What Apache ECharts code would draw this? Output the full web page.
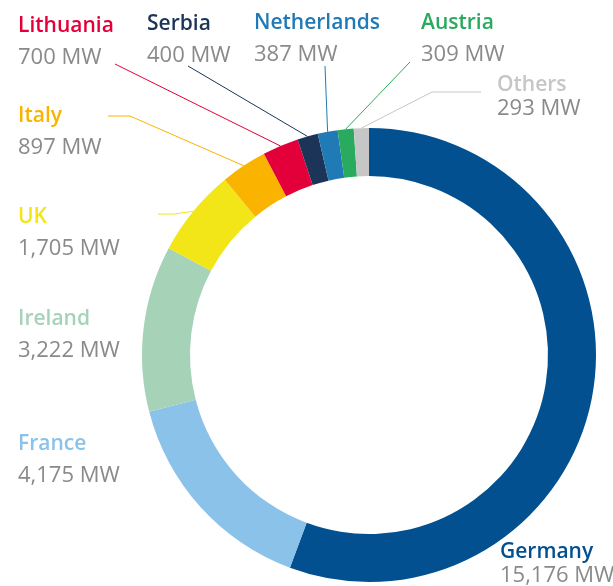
<!DOCTYPE html>
<html>
<head>
<meta charset="utf-8">
<script src="https://cdn.jsdelivr.net/npm/echarts@6/dist/echarts.min.js"></script>
<style>
  html, body { margin: 0; padding: 0; background: #fff; }
  #chart { width: 613px; height: 586px; }
</style>
</head>
<body>
<div id="chart"></div>
<script>
// capacity per country (MW)
const names = ['Germany', 'France', 'Ireland', 'UK', 'Italy', 'Lithuania', 'Serbia', 'Netherlands', 'Austria', 'Others'];
const values = [15176, 4175, 3222, 1705, 897, 700, 400, 387, 309, 293];
const colors = ['#02508f', '#8bc2ea', '#a6d3b8', '#f2e518', '#fab400', '#e3003a', '#1b3457', '#1f7ab6', '#2aaa5e', '#c6c6c6'];

// label boxes (top-left) and leader line ends, by name
const labelAt = {
  Germany: [500, 541], France: [18, 429], Ireland: [18, 304], UK: [18, 202], Italy: [18, 101],
  Lithuania: [18, 11], Serbia: [147, 9], Netherlands: [254, 8], Austria: [421, 8], Others: [497, 74]
};
const lineEnd = {
  Lithuania: [115, 64], Serbia: [188, 66], Netherlands: [325, 66], Austria: [410, 62],
  Others: [481, 92], Italy: [108, 116], UK: [158, 214]
};
const lineElbow = { Others: [432, 92], Italy: [130, 116], UK: [175, 214] };
const tightLabels = ['Germany', 'Others'];

const fmt = v => v.toLocaleString('en-US') + ' MW';

const data = names.map((n, i) => {
  const lh = tightLabels.includes(n) ? 23 : 31;
  return {
    name: n,
    value: values[i],
    itemStyle: { color: colors[i] },
    labelLine: { show: !!lineEnd[n], lineStyle: { color: colors[i], width: 1 } },
    label: {
      rich: {
        n: { color: colors[i], fontSize: 21, fontWeight: 600, lineHeight: lh },
        v: { color: '#8a8a8a', fontSize: 22, lineHeight: lh }
      }
    }
  };
});

const chart = echarts.init(document.getElementById('chart'));
chart.setOption({
  animation: false,
  series: [{
    type: 'pie',
    center: [369, 355],
    radius: [179, 227],
    startAngle: 90,
    clockwise: true,
    avoidLabelOverlap: false,
    emphasis: { disabled: true },
    label: {
      show: true,
      position: 'outside',
      fontFamily: 'Open Sans',
      formatter: p => '{n|' + p.name + '}\n{v|' + fmt(p.value) + '}'
    },
    labelLine: { show: true, length: 10, length2: 10 },
    labelLayout: function (p) {
      const name = names[p.dataIndex];
      const out = { x: labelAt[name][0], y: labelAt[name][1], align: 'left', verticalAlign: 'top' };
      if (lineEnd[name] && p.labelLinePoints) {
        const start = p.labelLinePoints[0];
        const end = lineEnd[name];
        const mid = lineElbow[name] || [(start[0] + end[0]) / 2, (start[1] + end[1]) / 2];
        out.labelLinePoints = [start, mid, end];
      }
      return out;
    },
    data: data
  }]
});
</script>
</body>
</html>
